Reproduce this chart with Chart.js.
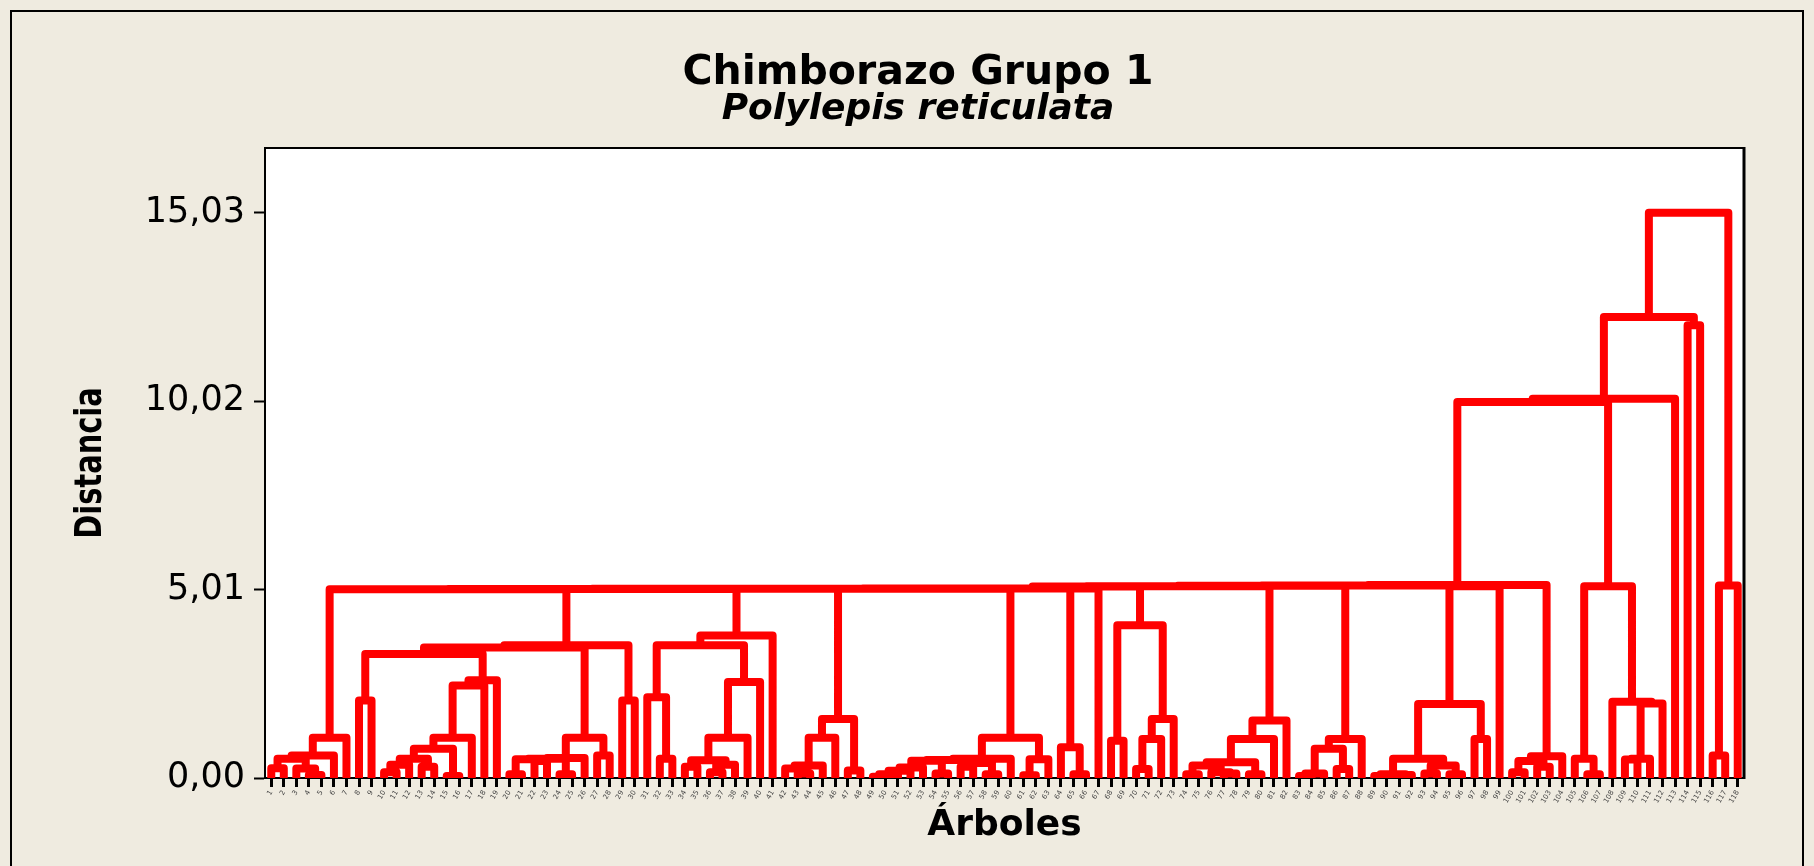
<!DOCTYPE html>
<html>
<head>
<meta charset="utf-8">
<script src="https://cdn.jsdelivr.net/npm/chart.js@4.4.1/dist/chart.umd.min.js"></script>
<style>
  html, body { margin: 0; padding: 0; background: #efebe0; }
  #wrap { width: 1814px; height: 866px; }
</style>
</head>
<body>
<div id="wrap"><canvas id="dendro" width="1814" height="866"></canvas></div>
<script>
// Dendrogram: Chimborazo Grupo 1 - Polylepis reticulata
const chartTitle = 'Chimborazo Grupo 1';
const chartSubtitle = 'Polylepis reticulata';
const xTitle = 'Árboles';
const yTitle = 'Distancia';

// leaves in dendrogram order (labels too small to read, numbered in order)
const leafLabels = [];
for (let i = 1; i <= 118; i++) leafLabels.push(String(i));

const yTickValues = [0, 5.01, 10.02, 15.03];

// each merge joins leaves [start..split] with [split+1..end] at a height
const mergeStart = [
    0, 3, 2, 0, 0, 0,
    7, 9, 9, 12, 9, 14, 9, 9, 9, 9, 7,
    19, 21, 19, 23, 19, 19, 26, 19, 7, 28, 7,
    31, 30, 33, 35, 35, 33, 33, 33, 30, 30,
    42, 41, 41, 41, 46, 41,
    48, 48, 48, 48, 53, 48, 55, 57, 55, 48, 48, 60, 60, 48,
    64, 63,
    67, 69, 69, 69, 67,
    73, 76, 75, 73, 78, 73, 73, 73,
    82, 82, 85, 82, 82,
    88, 90, 88, 92, 94, 92, 88, 96, 88,
    99, 101, 99, 99,
    105, 104, 108, 108, 108, 107, 104,
    113, 115, 115,
    0, 0, 0, 0, 0, 0, 0, 0, 0, 88, 0, 0, 0, 0, 0, 0
];
const mergeSplit = [
    0, 3, 2, 1, 4, 5,
    7, 9, 10, 12, 11, 14, 13, 15, 16, 17, 8,
    19, 21, 20, 23, 22, 24, 26, 25, 18, 28, 27,
    31, 30, 33, 35, 36, 34, 37, 38, 32, 39,
    42, 41, 43, 44, 46, 45,
    48, 49, 50, 51, 53, 52, 55, 57, 56, 54, 58, 60, 61, 59,
    64, 63,
    67, 69, 70, 71, 68,
    73, 76, 75, 74, 78, 77, 79, 80,
    82, 83, 85, 84, 86,
    88, 90, 89, 92, 94, 93, 91, 96, 95,
    99, 101, 100, 102,
    105, 104, 108, 109, 110, 107, 106,
    113, 115, 116,
    6, 29, 40, 47, 62, 65, 66, 72, 81, 97, 87, 98, 103, 111, 112, 114
];
const mergeEnd = [
    1, 4, 4, 4, 5, 6,
    8, 10, 11, 13, 13, 15, 15, 16, 17, 18, 18,
    20, 22, 22, 24, 24, 25, 27, 27, 27, 29, 29,
    32, 32, 34, 36, 37, 37, 38, 39, 39, 40,
    43, 43, 44, 45, 47, 47,
    49, 50, 51, 52, 54, 54, 56, 58, 58, 58, 59, 61, 62, 62,
    65, 65,
    68, 70, 71, 72, 72,
    74, 77, 77, 77, 79, 79, 80, 81,
    83, 84, 86, 86, 87,
    89, 91, 91, 93, 95, 95, 95, 97, 97,
    100, 102, 102, 103,
    106, 106, 109, 110, 111, 111, 111,
    114, 116, 117,
    29, 40, 47, 62, 65, 66, 72, 81, 87, 98, 98, 103, 111, 112, 114, 117
];
const mergeHeight = [
    0.26, 0.08, 0.25, 0.51, 0.60, 1.07,
    2.06, 0.15, 0.35, 0.30, 0.51, 0.05, 0.78, 1.07, 2.46, 2.60, 3.30,
    0.10, 0.45, 0.50, 0.10, 0.51, 0.53, 0.60, 1.07, 3.47, 2.06, 3.53,
    0.51, 2.15, 0.30, 0.15, 0.35, 0.47, 1.07, 2.55, 3.53, 3.79,
    0.12, 0.25, 0.33, 1.07, 0.20, 1.57,
    0.03, 0.10, 0.19, 0.28, 0.12, 0.46, 0.30, 0.10, 0.40, 0.48, 0.51, 0.07, 0.50, 1.07,
    0.10, 0.82,
    0.99, 0.24, 1.04, 1.57, 4.06,
    0.10, 0.12, 0.15, 0.33, 0.10, 0.42, 1.04, 1.53,
    0.05, 0.12, 0.24, 0.78, 1.04,
    0.05, 0.08, 0.10, 0.12, 0.10, 0.33, 0.51, 1.04, 1.97,
    0.15, 0.30, 0.45, 0.58,
    0.10, 0.51, 0.49, 0.51, 1.98, 2.03, 5.10,
    12.04, 0.60, 5.12,
    5.02, 5.025, 5.03, 5.03, 5.035, 5.04, 5.09, 5.10, 5.11, 5.10, 5.12, 5.13, 10.00, 10.08, 12.26, 15.03
];

// turn the merges into U shaped polylines (null y breaks the line)
function buildSegments() {
    const clusters = {};
    const node = (a, b) => (a === b ? { x: a, h: 0 } : clusters[a + '-' + b]);
    const pts = [];
    for (let k = 0; k < mergeHeight.length; k++) {
        const a = mergeStart[k], m = mergeSplit[k], b = mergeEnd[k], h = mergeHeight[k];
        const left = node(a, m), right = node(m + 1, b);
        if (!left || !right) { console.error('bad merge', k); continue; }
        pts.push({ x: left.x, y: left.h }, { x: left.x, y: h },
                 { x: right.x, y: h }, { x: right.x, y: right.h },
                 { x: right.x, y: null });
        clusters[a + '-' + b] = { x: (left.x + right.x) / 2, h: h };
    }
    return pts;
}

const frame = {
    id: 'frame',
    beforeDraw(chart) {
        const { ctx, chartArea: a } = chart;
        ctx.save();
        ctx.fillStyle = '#efebe0';
        ctx.fillRect(0, 0, chart.width, chart.height);
        ctx.strokeStyle = '#000';
        ctx.lineWidth = 2;
        ctx.strokeRect(11, 11, 1792, 900);
        ctx.fillStyle = '#fff';
        ctx.fillRect(a.left, a.top, a.right - a.left, a.bottom - a.top);
        ctx.restore();
    },
    afterDraw(chart) {
        const { ctx, chartArea: a } = chart;
        ctx.save();
        ctx.strokeStyle = '#000';
        ctx.lineWidth = 2;
        ctx.beginPath();
        ctx.moveTo(a.left, a.top);
        ctx.lineTo(a.right, a.top);
        ctx.stroke();
        ctx.lineWidth = 3;
        ctx.beginPath();
        ctx.moveTo(a.right, a.top - 1);
        ctx.lineTo(a.right, a.bottom + 1);
        ctx.stroke();

        ctx.fillStyle = '#000';
        ctx.textAlign = 'center';
        ctx.textBaseline = 'alphabetic';
        ctx.font = 'bold 41px "DejaVu Sans"';
        ctx.fillText(chartTitle, 918, 84);
        ctx.font = 'italic bold 36px "DejaVu Sans"';
        ctx.fillText(chartSubtitle, 918, 119);
        ctx.font = 'bold 36px "DejaVu Sans"';
        ctx.fillText(xTitle, (a.left + a.right) / 2, 835);

        // condensed bold label, squeezed along its length
        ctx.translate(91, (a.top + a.bottom) / 2);
        ctx.rotate(-Math.PI / 2);
        ctx.scale(0.76, 1);
        ctx.textBaseline = 'middle';
        ctx.font = 'bold 38px "DejaVu Sans"';
        ctx.fillText(yTitle, 0, 0);
        ctx.restore();
    }
};

function initDendrogram() {
    const ctx = document.getElementById('dendro').getContext('2d');
    new Chart(ctx, {
        type: 'scatter',
        data: {
            datasets: [{
                data: buildSegments(),
                showLine: true,
                spanGaps: false,
                borderColor: '#ff0000',
                borderWidth: 8,
                borderJoinStyle: 'round',
                pointRadius: 0,
                pointHoverRadius: 0,
                clip: 0
            }]
        },
        options: {
            responsive: false,
            animation: false,
            devicePixelRatio: 1,
            layout: { padding: { left: 0, right: 70, top: 148, bottom: 0 } },
            plugins: {
                legend: { display: false },
                tooltip: { enabled: false }
            },
            scales: {
                x: {
                    type: 'linear',
                    min: -0.5,
                    max: leafLabels.length - 0.5,
                    z: 1,
                    afterBuildTicks: (axis) => {
                        axis.ticks = leafLabels.map((_, i) => ({ value: i }));
                    },
                    afterFit: (axis) => { axis.height = 88; },
                    ticks: {
                        autoSkip: false,
                        minRotation: 60,
                        maxRotation: 60,
                        padding: 2,
                        color: '#444',
                        font: { family: 'DejaVu Sans', size: 7 },
                        callback: (v) => leafLabels[Math.round(v)]
                    },
                    grid: {
                        drawOnChartArea: false,
                        tickLength: 9,
                        tickWidth: 3,
                        tickColor: '#000'
                    },
                    border: { color: '#000', width: 2 }
                },
                y: {
                    min: 0,
                    max: 16.75,
                    z: 1,
                    afterBuildTicks: (axis) => {
                        axis.ticks = yTickValues.map(v => ({ value: v }));
                    },
                    afterFit: (axis) => { axis.width = 265; },
                    ticks: {
                        padding: 9,
                        color: '#000',
                        font: { family: 'DejaVu Sans', size: 35 },
                        callback: (v) => v.toFixed(2).replace('.', ',')
                    },
                    grid: {
                        drawOnChartArea: false,
                        tickLength: 11,
                        tickWidth: 2,
                        tickColor: '#000'
                    },
                    border: { color: '#000', width: 2 }
                }
            }
        },
        plugins: [frame]
    });
}

document.addEventListener('DOMContentLoaded', () => {
    initDendrogram();
});
</script>
</body>
</html>
